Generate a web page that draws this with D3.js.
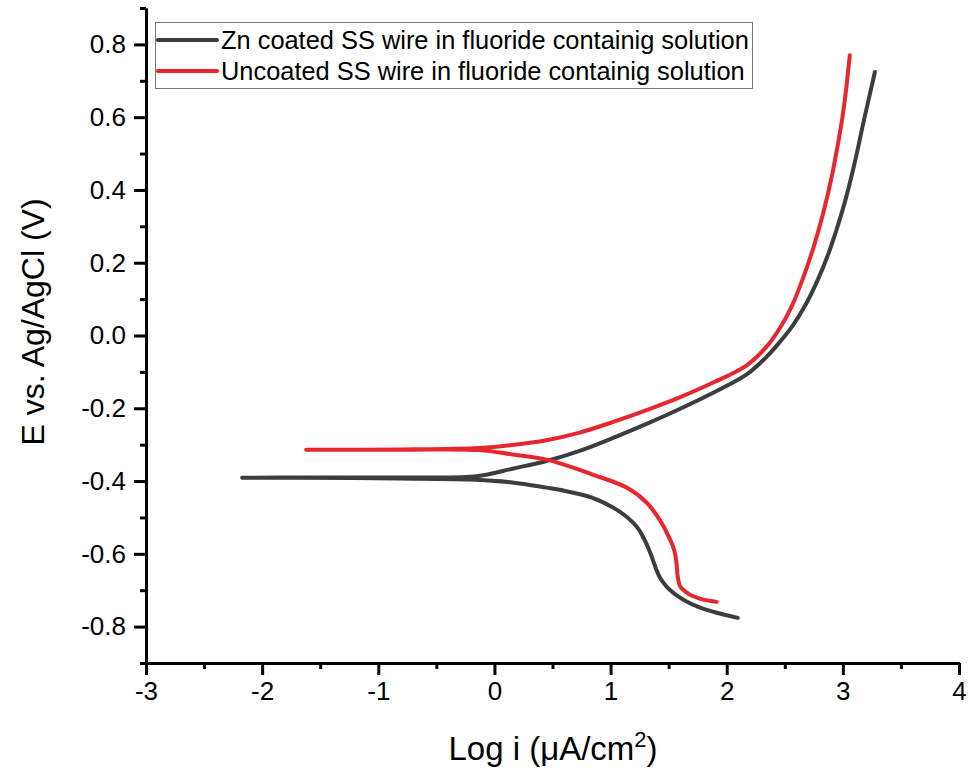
<!DOCTYPE html>
<html>
<head>
<meta charset="utf-8">
<script src="https://cdn.jsdelivr.net/npm/d3@7"></script>
<style>
body { margin: 0; background: #fff; }
svg { font-family: "Liberation Sans", Arial, sans-serif; }
</style>
</head>
<body>
<script>
// Zn coated SS wire: cathodic branch (bottom) -> tip -> anodic branch (top)
var znLogI = [2.095, 1.914, 1.75, 1.65, 1.56, 1.49, 1.43, 1.39, 1.345, 1.29, 1.224, 1.078, 0.845, 0.560, 0.448, 0.155, -0.216, -0.819, -1.681, -2.172,
	-1.681, -0.819, -0.155, 0.155, 0.448, 0.733, 1.017, 1.310, 1.595, 1.879, 2.172, 2.345, 2.457, 2.57, 2.68, 2.78, 2.87, 2.95, 3.02, 3.08, 3.13, 3.18, 3.23, 3.276];
var znE = [-0.776, -0.762, -0.745, -0.730, -0.712, -0.693, -0.668, -0.640, -0.600, -0.560, -0.525, -0.484, -0.446, -0.424, -0.418, -0.404, -0.396, -0.393, -0.391, -0.391,
	-0.390, -0.390, -0.387, -0.366, -0.345, -0.317, -0.282, -0.243, -0.202, -0.158, -0.107, -0.058, -0.018, 0.028, 0.085, 0.150, 0.220, 0.295, 0.370, 0.445, 0.515, 0.590, 0.660, 0.724];

// Uncoated SS wire
var ssLogI = [1.914, 1.80, 1.707, 1.65, 1.60, 1.578, 1.569, 1.550, 1.509, 1.422, 1.310, 1.138, 0.845, 0.733, 0.448, 0.155, -0.129, -0.819, -1.621,
	-0.819, -0.129, 0.155, 0.448, 0.733, 1.017, 1.310, 1.595, 1.879, 2.172, 2.345, 2.457, 2.56, 2.66, 2.75, 2.83, 2.90, 2.96, 3.01, 3.06];
var ssE = [-0.732, -0.726, -0.716, -0.705, -0.690, -0.662, -0.630, -0.592, -0.558, -0.506, -0.459, -0.418, -0.382, -0.369, -0.341, -0.327, -0.315, -0.314, -0.314,
	-0.313, -0.309, -0.301, -0.288, -0.267, -0.238, -0.205, -0.170, -0.130, -0.082, -0.030, 0.020, 0.080, 0.160, 0.245, 0.335, 0.430, 0.530, 0.630, 0.770];

var seriesNames = ["Zn coated SS wire in fluoride containig solution", "Uncoated SS wire in fluoride containig solution"];
var seriesColors = ["#3d3d3d", "#e8262d"];

var xTicks = [-3, -2, -1, 0, 1, 2, 3, 4];
var xMinor = [-2.5, -1.5, -0.5, 0.5, 1.5, 2.5, 3.5];
var yTicks = [-0.8, -0.6, -0.4, -0.2, 0.0, 0.2, 0.4, 0.6, 0.8];
var yMinor = [-0.9, -0.7, -0.5, -0.3, -0.1, 0.1, 0.3, 0.5, 0.7, 0.9];

var w = 968, h = 776;

var svg = d3.select("body").append("svg")
	.attr("width", w)
	.attr("height", h);

var xScale = d3.scaleLinear().domain([-3, 4]).range([146, 959]);
var yScale = d3.scaleLinear().domain([-0.9, 0.9]).range([663, 8]);

var line = d3.line()
	.x(function(d){ return xScale(d[0]); })
	.y(function(d){ return yScale(d[1]); })
	.curve(d3.curveCatmullRom.alpha(0.5));

var series = [
	d3.zip(znLogI, znE),
	d3.zip(ssLogI, ssE)
];

series.forEach(function(s, i){
	svg.append("path")
		.datum(s)
		.attr("d", line)
		.attr("fill", "none")
		.attr("stroke", seriesColors[i])
		.attr("stroke-width", 4)
		.attr("stroke-linecap", "round")
		.attr("stroke-linejoin", "round");
});

// hyphen minus like the original
function fmt(f){
	return function(d){ return f(d).replace("\u2212", "-"); };
}

var yAxis = d3.axisLeft(yScale)
	.tickValues(yTicks)
	.tickFormat(fmt(d3.format(".1f")))
	.tickSize(12)
	.tickSizeOuter(0)
	.tickPadding(8);

var yAxisMinor = d3.axisLeft(yScale)
	.tickValues(yMinor)
	.tickFormat("")
	.tickSize(6)
	.tickSizeOuter(0);

var xAxis = d3.axisBottom(xScale)
	.tickValues(xTicks)
	.tickFormat(fmt(d3.format("d")))
	.tickSize(12)
	.tickSizeOuter(0)
	.tickPadding(7);

var xAxisMinor = d3.axisBottom(xScale)
	.tickValues(xMinor)
	.tickFormat("")
	.tickSize(6)
	.tickSizeOuter(0);

function styleAxis(g){
	g.select(".domain").attr("stroke", "#000").attr("stroke-width", 3);
	g.selectAll(".tick line").attr("stroke", "#000").attr("stroke-width", 3);
	g.selectAll(".tick text")
		.attr("fill", "#000")
		.attr("font-size", 26)
		.attr("font-family", "'Liberation Sans', Arial, sans-serif");
}

svg.append("g").attr("transform", "translate(146,0)").call(yAxisMinor).call(styleAxis);
svg.append("g").attr("transform", "translate(146,0)").call(yAxis).call(styleAxis);
svg.append("g").attr("transform", "translate(0,663)").call(xAxisMinor).call(styleAxis);
svg.append("g").attr("transform", "translate(0,663)").call(xAxis).call(styleAxis);

// axis titles
var xTitle = svg.append("text")
	.attr("x", 553)
	.attr("y", 760)
	.attr("text-anchor", "middle")
	.attr("font-size", 33)
	.attr("fill", "#000");
xTitle.append("tspan").text("Log i (\u03bcA/cm");
xTitle.append("tspan").attr("dy", -13).attr("font-size", 22).text("2");
xTitle.append("tspan").attr("dy", 13).text(")");

svg.append("text")
	.attr("transform", "translate(44,322) rotate(-90)")
	.attr("text-anchor", "middle")
	.attr("font-size", 32)
	.attr("fill", "#000")
	.text("E vs. Ag/AgCl (V)");

// legend
var legend = svg.append("g");
legend.append("rect")
	.attr("x", 155.5)
	.attr("y", 22.5)
	.attr("width", 597)
	.attr("height", 66)
	.attr("fill", "#fff")
	.attr("stroke", "#777")
	.attr("stroke-width", 1);

seriesNames.forEach(function(name, i){
	var cy = 40 + i * 31;
	legend.append("line")
		.attr("x1", 158).attr("x2", 217)
		.attr("y1", cy).attr("y2", cy)
		.attr("stroke", seriesColors[i])
		.attr("stroke-width", 4)
		.attr("stroke-linecap", "round");
	legend.append("text")
		.attr("x", 221)
		.attr("y", cy + 9)
		.attr("font-size", 25.4)
		.attr("fill", "#000")
		.text(name);
});
</script>
</body>
</html>
